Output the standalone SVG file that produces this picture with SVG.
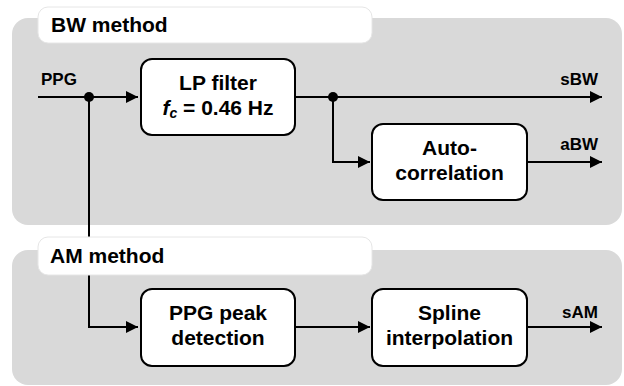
<svg xmlns="http://www.w3.org/2000/svg" width="624" height="386" viewBox="0 0 624 386">
<style>
.panel{fill:#d9d9d9;}
.tab{fill:#fff;stroke:#e6e6e6;stroke-width:1;}
.box{fill:#fff;stroke:#000;stroke-width:2;}
.hdr{font-family:"Liberation Sans",Arial,sans-serif;font-weight:bold;font-size:21px;fill:#000;}
.bt{font-family:"Liberation Sans",Arial,sans-serif;font-weight:bold;font-size:21px;fill:#000;text-anchor:middle;}
.lbl{font-family:"Liberation Sans",Arial,sans-serif;font-weight:bold;font-size:17px;fill:#000;}
.wire{fill:none;stroke:#000;stroke-width:2;}
</style>
<defs>
<marker id="arr" viewBox="0 0 12 12" refX="12" refY="6" markerWidth="12" markerHeight="12" markerUnits="userSpaceOnUse" orient="auto">
<path d="M0,0 L12,6 L0,12 Z" fill="#000"/>
</marker>
</defs>
<g id="bw-panel">
<rect class="panel" x="12" y="18" width="610" height="207" rx="16"/>
<rect class="tab" x="38" y="7" width="334" height="36" rx="10"/>
<text class="hdr" x="51" y="32">BW method</text>
</g>
<g id="am-panel">
<rect class="panel" x="12" y="250" width="610" height="135" rx="16"/>
</g>
<g id="connectors">
<path class="wire" d="M38,97 H138" marker-end="url(#arr)"/>
<path class="wire" d="M295,97 H602" marker-end="url(#arr)"/>
<path class="wire" d="M333,97 V162 H370" marker-end="url(#arr)"/>
<path class="wire" d="M527,162 H602" marker-end="url(#arr)"/>
<path class="wire" d="M89,97 V327 H138" marker-end="url(#arr)"/>
<path class="wire" d="M295,327 H370" marker-end="url(#arr)"/>
<path class="wire" d="M527,327 H602" marker-end="url(#arr)"/>
<circle cx="89" cy="97" r="5" fill="#000"/>
<circle cx="333" cy="97" r="5" fill="#000"/>
</g>
<g id="am-tab">
<rect class="tab" x="38" y="237" width="334" height="38" rx="10"/>
<text class="hdr" x="50" y="263">AM method</text>
</g>
<g id="labels">
<text class="lbl" x="41" y="85">PPG</text>
<text class="lbl" x="598" y="85" text-anchor="end">sBW</text>
<text class="lbl" x="598" y="150" text-anchor="end">aBW</text>
<text class="lbl" x="598" y="318" text-anchor="end">sAM</text>
</g>
<g id="lp-filter">
<rect class="box" x="141" y="59" width="154" height="76" rx="11"/>
<text class="bt" x="218" y="90">LP filter</text>
<text class="bt" x="218" y="115"><tspan font-style="italic">f</tspan><tspan font-style="italic" font-size="14" dy="3">c</tspan><tspan dy="-3"> = 0.46 Hz</tspan></text>
</g>
<g id="autocorrelation">
<rect class="box" x="372" y="124" width="155" height="76" rx="11"/>
<text class="bt" x="449.5" y="155">Auto-</text>
<text class="bt" x="449.5" y="180">correlation</text>
</g>
<g id="ppg-peak">
<rect class="box" x="141" y="289" width="154" height="77" rx="11"/>
<text class="bt" x="218" y="320">PPG peak</text>
<text class="bt" x="218" y="345">detection</text>
</g>
<g id="spline">
<rect class="box" x="372" y="289" width="155" height="77" rx="11"/>
<text class="bt" x="449.5" y="320">Spline</text>
<text class="bt" x="449.5" y="345">interpolation</text>
</g>
</svg>
